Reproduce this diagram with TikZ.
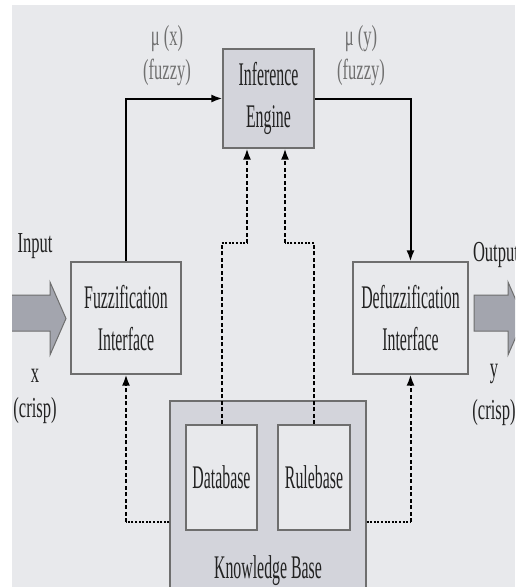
\documentclass[tikz,border=0pt]{standalone}
\usepackage{fontspec}
\setmainfont{Liberation Serif}[FakeStretch=0.48]
\newfontfamily\labelfont{Liberation Serif}[FakeStretch=0.57]
\usetikzlibrary{arrows.meta}
\definecolor{bggrey}{HTML}{E8E9EC}
\definecolor{boxgrey}{HTML}{D3D4DB}
\definecolor{arrowgrey}{HTML}{A3A5AE}
\definecolor{edgegrey}{HTML}{6E6E6E}
\definecolor{labelgrey}{HTML}{707070}
\definecolor{textgrey}{HTML}{222222}

\begin{document}
\begin{tikzpicture}[x=1pt,y=-1pt,>={Latex[length=11pt,width=8pt]},
  every node/.style={font=\fontsize{33}{42}\selectfont,text=textgrey,inner sep=0pt},
  block/.style={draw=edgegrey,line width=1.2pt,align=center},
  side/.style={font=\labelfont\fontsize{29}{36}\selectfont,anchor=base},
  flow/.style={line width=2pt},
  dashline/.style={line width=2pt,dash pattern=on 4pt off 2.5pt},
  dotline/.style={line width=2.2pt,dash pattern=on 2pt off 1.6pt},
  bigarrow/.style={line width=1pt,draw=edgegrey}]
\useasboundingbox (0,0) rectangle (515,587);
\clip (0,0) rectangle (515,587);
\fill[white] (0,0) rectangle (515,587);
\fill[bggrey] (12,5) rectangle (515,587);

\node[block,fill=boxgrey,minimum width=91pt,minimum height=99pt] (inf) at (268.5,98.5) {Inference\\Engine};
\node[block,minimum width=110pt,minimum height=112pt] (fuzz) at (126,318) {Fuzzification\\Interface};
\node[block,minimum width=115pt,minimum height=112pt] (defuzz) at (410.5,318) {Defuzzification\\Interface};
\node[block,fill=boxgrey,minimum width=196pt,minimum height=199pt] (kb) at (268,500.5) {};
\node[block,fill=bggrey,minimum width=71pt,minimum height=105pt] (db) at (221.5,477.5) {Database};
\node[block,fill=bggrey,minimum width=72pt,minimum height=105pt] (rb) at (314,477.5) {Rulebase};
\node[anchor=base] (kbname) at (268,578) {Knowledge Base};

\node[side,text=labelgrey] (mux) at (167,45) {μ (x)};
\node[side,text=labelgrey] (fzx) at (167,79) {(fuzzy)};
\node[side,text=labelgrey] (muy) at (361,45) {μ (y)};
\node[side,text=labelgrey] (fzy) at (361,79) {(fuzzy)};

\node[side] (inlab) at (35,252) {Input};
\node[side] (xlab) at (35,382) {x};
\node[side] (xcrisp) at (35,417) {(crisp)};
\node[side] (outlab) at (496,261) {Output};
\node[side] (ylab) at (494,377) {y};
\node[side] (ycrisp) at (494,419) {(crisp)};

\fill[arrowgrey] (12,295) -- (50,295) -- (50,282) -- (66,318.5) -- (50,355) -- (50,331) -- (12,331) -- cycle;
\draw[bigarrow] (12,295) -- (50,295) -- (50,282) -- (66,318.5) -- (50,355) -- (50,331) -- (12,331);
\filldraw[fill=arrowgrey,bigarrow] (474,295) -- (508,295) -- (508,282) -- (524,318.5) -- (508,355) -- (508,331) -- (474,331) -- cycle;

\draw[flow,->] (fuzz.north) |- (inf.west);
\draw[flow,->] (inf.east) -| (defuzz.north);

\coordinate (infl) at ([xshift=-21.5pt]inf.south);
\coordinate (infr) at ([xshift=16.5pt]inf.south);
\coordinate (jog) at (0,243);
\draw[dashline] (db.north) -- (db.north |- jog);
\draw[dotline] (db.north |- jog) -- (infl |- jog);
\draw[dashline,->] (infl |- jog) -- (infl);
\draw[dashline] (rb.north) -- (rb.north |- jog);
\draw[dotline] (rb.north |- jog) -- (infr |- jog);
\draw[dashline,->] (infr |- jog) -- (infr);

\coordinate (low) at (0,522);
\draw[dotline] (kb.west |- low) -- (fuzz.south |- low);
\draw[dashline,->] (fuzz.south |- low) -- (fuzz.south);
\draw[dotline] (kb.east |- low) -- (defuzz.south |- low);
\draw[dashline,->] (defuzz.south |- low) -- (defuzz.south);
\end{tikzpicture}
\end{document}
